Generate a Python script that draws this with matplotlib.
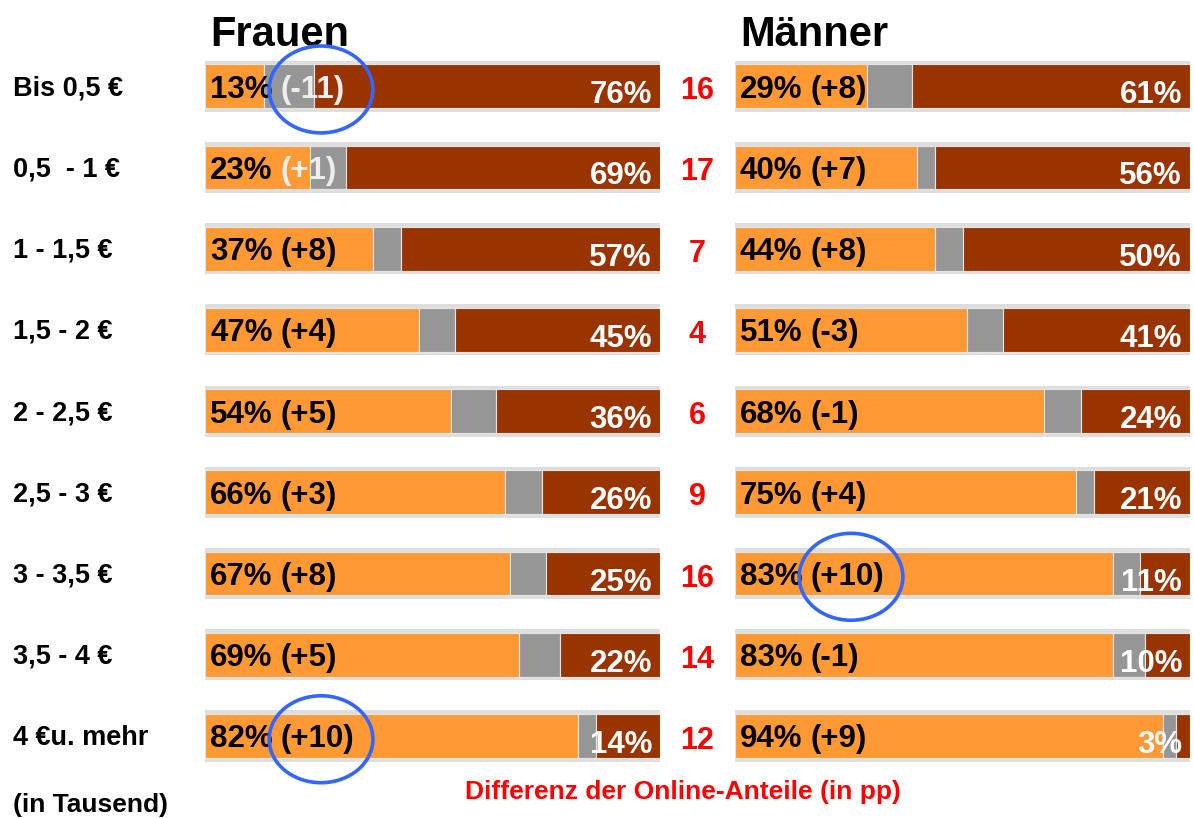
import numpy as np
import matplotlib.pyplot as plt
from matplotlib.patches import Ellipse
from matplotlib import transforms

plt.rcParams['font.family'] = ['Liberation Sans', 'DejaVu Sans']
plt.rcParams['font.weight'] = 'bold'

# Daten
kategorien = ['Bis 0,5 €', '0,5  - 1 €', '1 - 1,5 €', '1,5 - 2 €', '2 - 2,5 €',
              '2,5 - 3 €', '3 - 3,5 €', '3,5 - 4 €', '4 €u. mehr']
frauen_online = [13, 23, 37, 47, 54, 66, 67, 69, 82]
frauen_grau = [11, 8, 6, 8, 10, 8, 8, 9, 4]
frauen_offline = [76, 69, 57, 45, 36, 26, 25, 22, 14]
frauen_diff = ['(-11)', '(+1)', '(+8)', '(+4)', '(+5)', '(+3)', '(+8)', '(+5)', '(+10)']
maenner_online = [29, 40, 44, 51, 68, 75, 83, 83, 94]
maenner_grau = [10, 4, 6, 8, 8, 4, 6, 7, 3]
maenner_offline = [61, 56, 50, 41, 24, 21, 11, 10, 3]
maenner_diff = ['(+8)', '(+7)', '(+8)', '(-3)', '(-1)', '(+4)', '(+10)', '(-1)', '(+9)']
anzahl = [16, 17, 7, 4, 6, 9, 16, 14, 12]  # in Tausend
# markierte Zeilen (Kreise)
markiert_frauen = [0, 8]
markiert_maenner = [6]
# helle Schrift fuer die Differenz (liegt auf grau/braun)
hell_frauen = [0, 1]

ORANGE = '#FF9933'
GRAU = '#969696'
BRAUN = '#993300'
ROT = '#FF0000'
BLAU = '#3366FF'

W, H = 1194, 818
fig = plt.figure(figsize=(W / 100, H / 100), dpi=100)
ax1 = fig.add_axes([205 / W, 1 - 776.6 / H, 455 / W, 731 / H])
ax2 = fig.add_axes([735 / W, 1 - 776.6 / H, 455 / W, 731 / H])

y = np.arange(len(kategorien))


def panel(ax, titel, online, grau, offline, diff, markiert, hell):
    ax.barh(y, 100.6, left=-0.3, height=0.63, color='#dedede', zorder=1)
    ax.barh(y, online, height=0.54, color=ORANGE, edgecolor='#e6e6e6', lw=0.8, zorder=2)
    ax.barh(y, grau, left=online, height=0.54, color=GRAU, edgecolor='#e6e6e6', lw=0.8, zorder=2)
    ax.barh(y, offline, left=np.array(online) + np.array(grau), height=0.54,
            color=BRAUN, edgecolor='#e6e6e6', lw=0.8, zorder=2)
    for i in y:
        t1 = ax.annotate(f'{online[i]}%', xy=(0, i), xytext=(5, -11.5),
                         textcoords='offset pixels', ha='left', va='baseline',
                         fontsize=22.5, color='black', zorder=5)
        ax.annotate(diff[i], xy=(1, 0), xycoords=t1, xytext=(8, 0),
                    textcoords='offset pixels', ha='left', va='bottom',
                    fontsize=22.5, color='#eeeeee' if i in hell else 'black', zorder=5)
        ax.annotate(f'{offline[i]}%', xy=(100, i), xytext=(-8, -17),
                    textcoords='offset pixels', ha='right', va='baseline',
                    fontsize=22.5, color='white', zorder=5)
    for i in markiert:
        ax.add_patch(Ellipse((25.5, i + 0.04), 22.8, 1.07, fill=False, ec=BLAU,
                             lw=2.6, zorder=6, clip_on=False))
    ax.annotate(titel, xy=(0, 1), xycoords='axes fraction', xytext=(5, 0),
                textcoords='offset pixels', ha='left', va='baseline', fontsize=30)
    ax.set_xlim(0, 100)
    ax.set_ylim(len(kategorien) - 0.5, -0.5)
    ax.axis('off')


panel(ax1, 'Frauen', frauen_online, frauen_grau, frauen_offline, frauen_diff,
      markiert_frauen, hell_frauen)
panel(ax2, 'Männer', maenner_online, maenner_grau, maenner_offline, maenner_diff,
      markiert_maenner, [])

# Kategorien links, Anzahl in der Mitte
trans = transforms.blended_transform_factory(fig.transFigure, ax1.transData)
for i in y:
    ax1.annotate(kategorien[i], xy=(13 / W, i), xycoords=trans, xytext=(0, -9),
                 textcoords='offset pixels', ha='left', va='baseline', fontsize=19.5,
                 annotation_clip=False)
    ax1.annotate(str(anzahl[i]), xy=(697.5 / W, i), xycoords=trans, xytext=(0, -13),
                 textcoords='offset pixels', ha='center', va='baseline', fontsize=22,
                 color=ROT, annotation_clip=False)

fig.text(13 / W, 1 - 812 / H, '(in Tausend)', ha='left', va='baseline', fontsize=19)
fig.text(683 / W, 1 - 799 / H, 'Differenz der Online-Anteile (in pp)', ha='center',
         va='baseline', fontsize=19, color=ROT)

plt.savefig('out.png', dpi=100)
